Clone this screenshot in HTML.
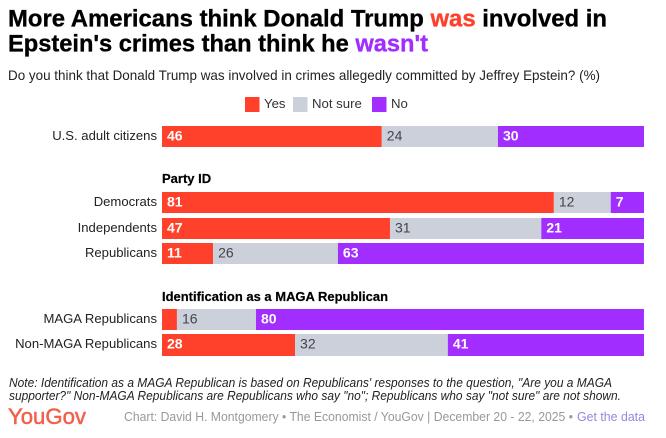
<!DOCTYPE html>
<html lang="en">
<head>
<meta charset="utf-8">
<title>YouGov Chart</title>
<style>
html,body{margin:0;padding:0;background:#fff;}
svg{display:block;font-family:"Liberation Sans",sans-serif;}
</style>
</head>
<body>
<svg id="chart" width="666" height="438" viewBox="0 0 666 438" xmlns="http://www.w3.org/2000/svg">
<rect width="666" height="438" fill="#fff"/>
<g font-size="24.5" font-weight="700" fill="#000" stroke-width="0.35">
<text x="8" y="26.5" stroke="#000" textLength="599" lengthAdjust="spacingAndGlyphs">More Americans think Donald Trump <tspan fill="#ff412c" stroke="#ff412c">was</tspan> involved in</text>
<text x="8" y="51.5" stroke="#000" textLength="420" lengthAdjust="spacingAndGlyphs">Epstein's crimes than think he <tspan fill="#a22dff" stroke="#a22dff">wasn't</tspan></text>
</g>
<text x="8" y="80" font-size="14" fill="#222" textLength="592" lengthAdjust="spacingAndGlyphs">Do you think that Donald Trump was involved in crimes allegedly committed by Jeffrey Epstein? (%)</text>
<g font-size="13.2" fill="#333">
<rect x="245" y="97" width="14.5" height="15" fill="#ff412c"/>
<text x="264" y="108">Yes</text>
<rect x="293" y="97" width="14.5" height="15" fill="#cbd0db"/>
<text x="312" y="108">Not sure</text>
<rect x="372" y="97" width="14.5" height="15" fill="#a22dff"/>
<text x="391" y="108">No</text>
</g>
<text x="162" y="183" font-size="13" font-weight="700" fill="#000" stroke="#000" stroke-width="0.2">Party ID</text>
<text x="162" y="301" font-size="13" font-weight="700" fill="#000" stroke="#000" stroke-width="0.2" textLength="226" lengthAdjust="spacingAndGlyphs">Identification as a MAGA Republican</text>
<g id="bars"></g>
<g font-size="12.5" font-style="italic" fill="#222">
<text x="9" y="387" textLength="603" lengthAdjust="spacingAndGlyphs">Note: Identification as a MAGA Republican is based on Republicans' responses to the question, "Are you a MAGA</text>
<text x="9" y="400" textLength="612" lengthAdjust="spacingAndGlyphs">supporter?" Non-MAGA Republicans are Republicans who say "no"; Republicans who say "not sure" are not shown.</text>
</g>
<text x="8" y="424" font-size="22" font-weight="400" stroke="#f2604c" stroke-width="0.5" fill="#f2604c" textLength="78" lengthAdjust="spacingAndGlyphs">YouGov</text>
<text x="124" y="421" font-size="12.5" fill="#999" textLength="449" lengthAdjust="spacingAndGlyphs">Chart: David H. Montgomery • The Economist / YouGov | December 20 - 22, 2025 •</text>
<text x="577" y="421" font-size="12.5" fill="#9a85e0" textLength="68" lengthAdjust="spacingAndGlyphs">Get the data</text>
</svg>
<script>
const categories = ["U.S. adult citizens", "Democrats", "Independents", "Republicans", "MAGA Republicans", "Non-MAGA Republicans"];
const yesValues = [45.6, 81.3, 47.3, 10.6, 3.1, 27.6];
const notSureValues = [24.1, 11.8, 31.4, 25.9, 16.4, 31.7];
const noValues = [30.3, 6.9, 21.3, 63.49, 80.49, 40.7];

const svgNS = "http://www.w3.org/2000/svg";
const barsGroup = document.getElementById("bars");
const rowTops = [126, 192, 218, 243, 309, 334];
const rowHeights = [21, 21, 21, 21, 21, 22];
const plotLeft = 162;
const plotWidth = 482;
const xScale = function (v) { return plotLeft + v / 100 * plotWidth; };

function makeSvg(tag) {
  return document.createElementNS(svgNS, tag);
}

categories.forEach(function (name, i) {
  const top = rowTops[i];
  const label = makeSvg("text");
  
  
  label.setAttribute("x", 157);
  label.setAttribute("y", top + 14);
  label.setAttribute("text-anchor", "end");
  label.setAttribute("font-size", "13.1");
  label.setAttribute("fill", "#222");
  label.textContent = name;
  barsGroup.appendChild(label);

  const segments = [
    { v: yesValues[i], fill: "#ff412c", text: "#fff", weight: "700", key: "yes" },
    { v: notSureValues[i], fill: "#cbd0db", text: "#444", weight: "400", key: "not-sure" },
    { v: noValues[i], fill: "#a22dff", text: "#fff", weight: "700", key: "no" }
  ];
  let cum = 0;
  segments.forEach(function (s) {
    const x0 = xScale(cum);
    const x1 = xScale(cum + s.v);
    cum += s.v;
    const r = makeSvg("rect");
    
    
    r.setAttribute("x", x0);
    r.setAttribute("y", top);
    r.setAttribute("width", x1 - x0);
    r.setAttribute("height", rowHeights[i]);
    r.setAttribute("fill", s.fill);
    r.setAttribute("class", "segment-" + s.key);
    barsGroup.appendChild(r);
    if (s.v >= 5) {
      const t = makeSvg("text");
      
      
      t.setAttribute("x", x0 + 5);
      t.setAttribute("y", top + 14.5);
      t.setAttribute("font-size", "14");
      t.setAttribute("font-weight", s.weight);
      t.setAttribute("fill", s.text);
      t.textContent = Math.round(s.v);
      barsGroup.appendChild(t);
    }
  });
});
</script>
</body>
</html>
